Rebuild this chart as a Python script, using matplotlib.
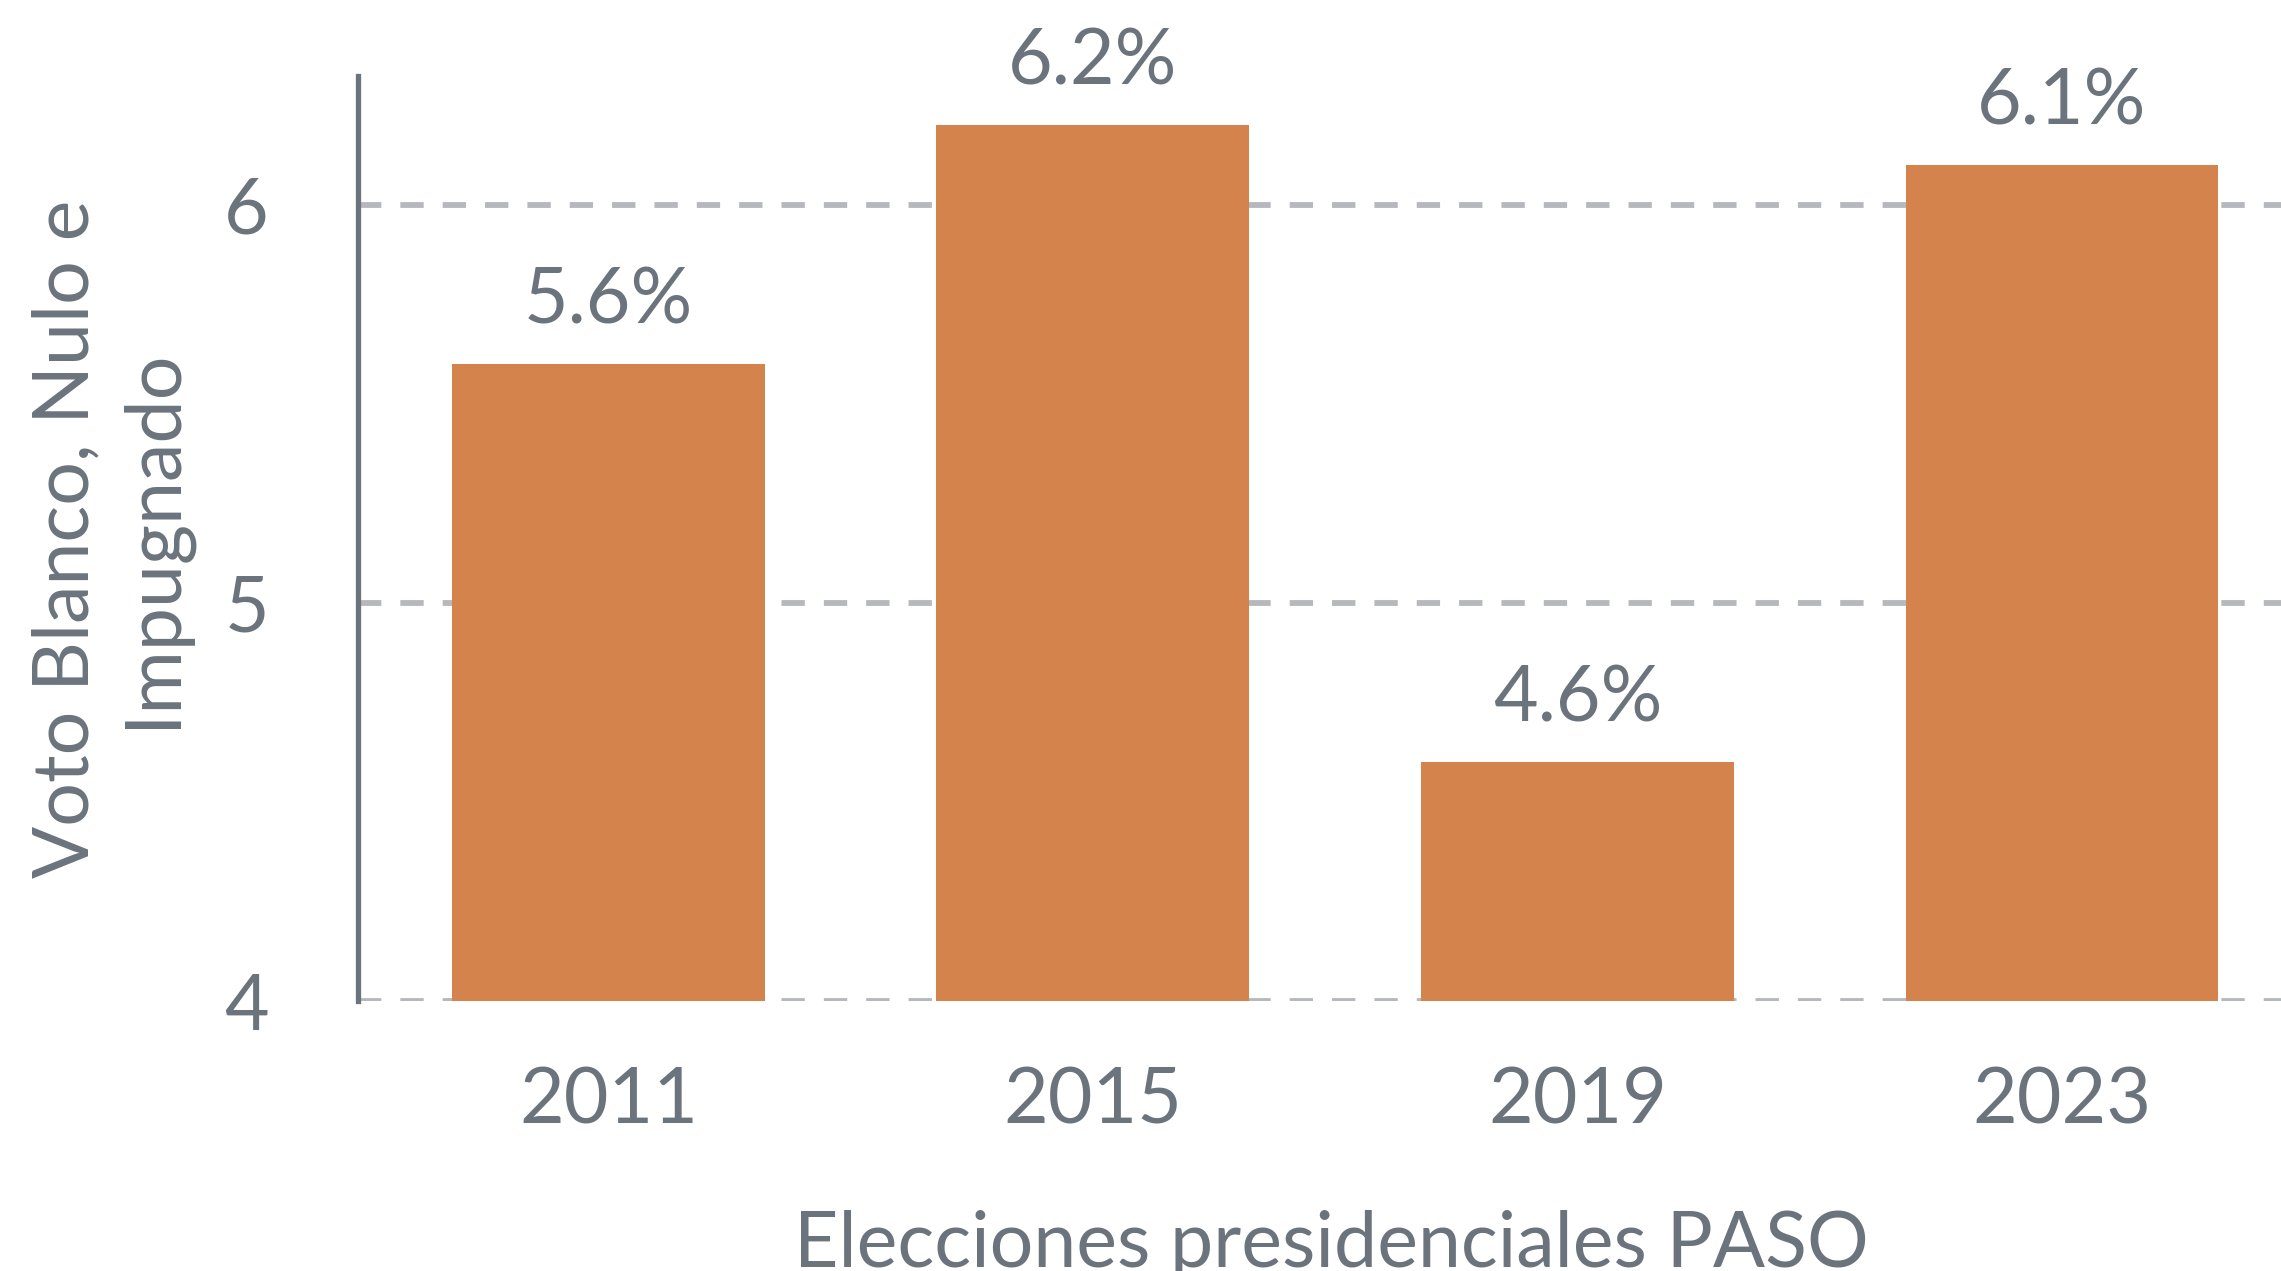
import matplotlib
matplotlib.use("Agg")
import matplotlib.pyplot as plt

# Data
years = ["2011", "2015", "2019", "2023"]
values = [5.6, 6.2, 4.6, 6.1]
labels = ["5.6%", "6.2%", "4.6%", "6.1%"]
yticks = [4, 5, 6]

TEXT = "#6b747c"
BAR = "#d5834d"
GRID = "#b5b8bc"
FS = 55.5

plt.rcParams["font.family"] = ["Lato", "DejaVu Sans"]

W, H = 2281, 1271
fig = plt.figure(figsize=(W / 100, H / 100), dpi=100)
ax = fig.add_axes([358 / W, 1 - 1001 / H, 1 - 358 / W, (1001 - 76) / H])

x = list(range(len(years)))
ax.bar(x, [v - 4 for v in values], bottom=4, width=0.646, color=BAR, zorder=2)

ax.set_ylim(4, 4 + (1001 - 76) / 398.0)
ax.set_xlim(-0.517, 3.452)

ax.set_yticks(yticks)
ax.set_yticklabels([str(t) for t in yticks])
ax.set_xticks(x)
ax.set_xticklabels(years)
ax.tick_params(axis="both", length=0, labelsize=FS, labelcolor=TEXT)
ax.tick_params(axis="y", pad=64)
ax.tick_params(axis="x", pad=47)

ax.yaxis.grid(True, color=GRID, linewidth=4.2, linestyle=(0, (4.0, 3.26)), zorder=1)
ax.xaxis.grid(False)
ax.set_axisbelow(True)

for s in ["top", "right", "bottom"]:
    ax.spines[s].set_visible(False)
ax.spines["left"].set_color(TEXT)
ax.spines["left"].set_linewidth(3.8)
ax.spines["left"].set_zorder(3)

for xi, v, lab in zip(x, values, labels):
    ax.annotate(lab, (xi, v), xytext=(0, 29.5), textcoords="offset points",
                ha="center", va="baseline", fontsize=FS, color=TEXT)

fig.text(1331.5 / W, 1 - 1267 / H, "Elecciones presidenciales PASO",
         ha="center", va="baseline", fontsize=FS, color=TEXT)
fig.text(111 / W, 1 - 538.5 / H, "Voto Blanco, Nulo e\nImpugnado",
         ha="center", va="center", rotation=90, fontsize=FS, color=TEXT,
         linespacing=1.27, multialignment="center")

fig.savefig("out.png", dpi=100)
